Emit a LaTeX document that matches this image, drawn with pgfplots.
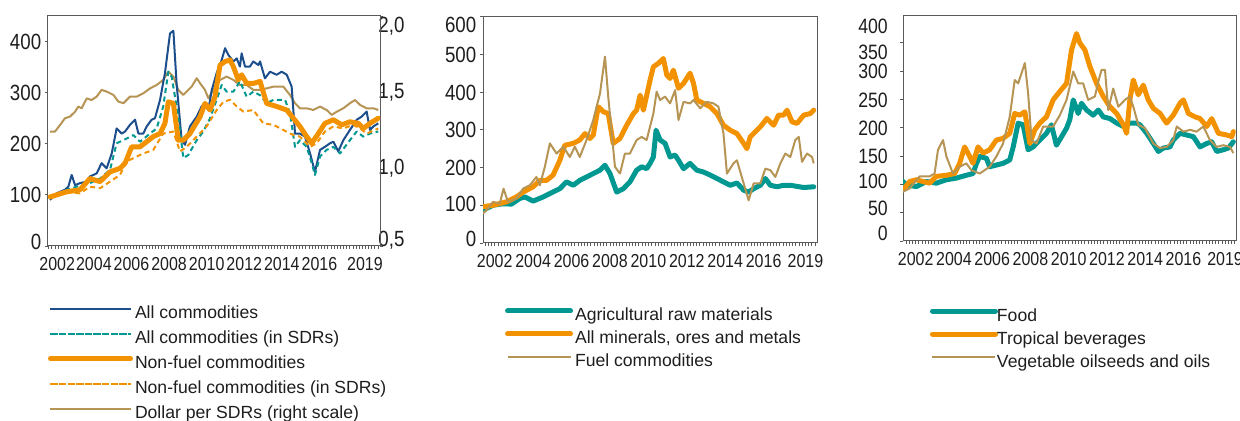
\documentclass[border=0pt]{standalone}
\usepackage{fontspec}
\setmainfont{Liberation Sans}
\newfontfamily\narrow[FakeStretch=0.85]{Liberation Sans}
\usepackage{pgfplots}
\pgfplotsset{compat=1.18}

\definecolor{cblue}{RGB}{28,78,140}
\definecolor{cteal}{RGB}{0,152,145}
\definecolor{corange}{RGB}{243,146,0}
\definecolor{ctan}{RGB}{182,148,84}
\definecolor{axgray}{RGB}{90,90,90}
\definecolor{txt}{RGB}{30,30,30}

\pgfplotsset{
  base/.style={
    scale only axis,
    axis line style={axgray, line width=0.5pt},
    every tick/.style={axgray, line width=0.4pt},
    /pgf/number format/assume math mode=true,
    tick label style={text=txt},
    major tick length=0pt,
    minor tick length=1.5pt,
    tick align=outside,
    yticklabel style={font=\narrow\fontsize{11}{13}\selectfont, inner sep=0pt, xshift=-3.2pt},
    xticklabel style={font=\narrow\fontsize{9.4}{11}\selectfont, inner sep=0pt, yshift=-5.3pt},
    xtick pos=bottom,
    ytick pos=left,
    legend cell align=left,
    every axis plot/.append style={line join=round},
  },
  leg/.style n args={4}{
    legend style={at={(axis description cs:#1,#2)}, anchor=north west, draw=none, fill=none,
      inner sep=0pt, outer sep=0pt, font=\fontsize{8.8}{10}\selectfont, text=txt,
      row sep=#4, nodes={inner sep=0pt, text height=6.4pt, text depth=1.6pt},
      /tikz/every odd column/.append style={column sep=#3}},
  },
  blueline/.style={draw=cblue, line width=1pt},
  tealdash/.style={draw=cteal, line width=1pt, dash pattern=on 2.5pt off 1.8pt},
  orangethick/.style={draw=corange, line width=2.5pt, line cap=round},
  orangedash/.style={draw=corange, line width=1pt, dash pattern=on 2.5pt off 1.8pt},
  tanline/.style={draw=ctan, line width=1pt},
  tealthick/.style={draw=cteal, line width=2.5pt, line cap=round},
}

\begin{document}
\begin{tikzpicture}
\path[use as bounding box] (0pt,0pt) rectangle (620pt,210.5pt);

% ---------------- Panel 1: right axis (Dollar per SDR) ----------------
\begin{axis}[base, at={(24pt,87.5pt)}, anchor=south west, width=166pt, height=115pt,
  xmin=2001.96, xmax=2019.62, ymin=0.5, ymax=2.0,
  axis y line*=right, axis x line=none,
  ytick pos=right,
  ytick={0.535,1.007,1.5,1.93}, yticklabels={{0,5},{1,0},{1,5},{2,0}},
  minor ytick={0.5,1.0,1.5,2.0},
  yticklabel style={font=\narrow\fontsize{11}{13}\selectfont, inner sep=0pt, xshift=2.2pt, anchor=west},
]
\addplot[tanline] coordinates {
(2002.07,1.246) (2002.33,1.246) (2002.60,1.289) (2002.86,1.333) (2003.13,1.344) (2003.40,1.376)
(2003.57,1.409) (2003.75,1.398) (2004.02,1.463) (2004.28,1.452) (2004.55,1.474) (2004.81,1.518)
(2005.08,1.507) (2005.44,1.485) (2005.70,1.442) (2005.97,1.431) (2006.32,1.474) (2006.68,1.474)
(2007.03,1.496) (2007.39,1.528) (2007.74,1.550) (2008.09,1.583) (2008.36,1.637) (2008.63,1.605)
(2008.89,1.518) (2009.16,1.485) (2009.60,1.539) (2009.87,1.594) (2010.05,1.561) (2010.31,1.518)
(2010.49,1.463) (2010.75,1.518) (2011.11,1.583) (2011.46,1.605) (2011.82,1.583) (2012.17,1.550)
(2012.53,1.550) (2012.88,1.518) (2013.24,1.518) (2013.59,1.528) (2013.95,1.539) (2014.48,1.539)
(2014.83,1.485) (2015.10,1.431) (2015.36,1.398) (2015.72,1.398) (2016.07,1.387) (2016.43,1.409)
(2016.78,1.387) (2017.05,1.355) (2017.32,1.376) (2017.67,1.398) (2018.02,1.431) (2018.29,1.452)
(2018.56,1.420) (2018.91,1.398) (2019.27,1.398) (2019.53,1.387)
};
\end{axis}

% ---------------- Panel 1: left axis ----------------
\begin{axis}[base, at={(24pt,87.5pt)}, anchor=south west, width=166pt, height=115pt,
  xmin=2001.96, xmax=2019.62, ymin=0, ymax=450,
  ytick={7.2,100,200,300,398.6}, yticklabels={0,100,200,300,400},
  minor ytick={0,100,200,300,400},
  xtick={2002.45,2004.4,2006.4,2008.4,2010.4,2012.4,2014.4,2016.4,2018.82},
  xticklabels={2002,2004,2006,2008,2010,2012,2014,2016,2019},
  minor xtick={2002,2002.1667,...,2019.6},
  leg={0}{-0.26}{1pt}{4.5pt},
  legend image code/.code={\path (0pt,2.6pt) -- (40pt,2.6pt); \draw[#1] (1.2pt,2.6pt) -- (38.8pt,2.6pt);},
]
\addplot[blueline] coordinates {
(2002.07,90) (2002.42,103) (2002.86,110) (2003.04,116) (2003.22,139) (2003.40,119) (2003.66,123)
(2004.02,126) (2004.19,136) (2004.55,142) (2004.81,162) (2005.08,152) (2005.35,181) (2005.61,230)
(2005.88,220) (2006.06,224) (2006.32,237) (2006.59,247) (2006.77,220) (2007.03,220) (2007.21,234)
(2007.47,247) (2007.65,250) (2007.92,286) (2008.18,338) (2008.45,416) (2008.63,421) (2008.80,318)
(2009.07,207) (2009.25,198) (2009.51,234) (2009.87,253) (2010.13,273) (2010.31,279) (2010.49,266)
(2010.67,305) (2010.93,338) (2011.20,364) (2011.38,387) (2011.55,374) (2011.82,361) (2012.00,367)
(2012.17,351) (2012.26,377) (2012.44,351) (2012.70,351) (2012.88,361) (2013.15,354) (2013.24,361)
(2013.50,328) (2013.77,341) (2014.12,335) (2014.39,341) (2014.66,335) (2014.92,312) (2015.10,220)
(2015.36,220) (2015.63,214) (2015.90,181) (2016.16,145) (2016.43,188) (2016.69,194) (2016.96,201)
(2017.14,204) (2017.40,185) (2017.67,207) (2018.02,227) (2018.38,247) (2018.64,253) (2018.91,263)
(2019.09,227) (2019.27,234) (2019.53,240)
};
\addlegendentry{All commodities}
\addplot[tealdash] coordinates {
(2002.07,93) (2002.95,110) (2003.48,116) (2004.19,123) (2004.73,132) (2005.26,149) (2005.61,201)
(2005.97,207) (2006.50,217) (2006.85,204) (2007.39,220) (2007.74,230) (2008.09,273) (2008.36,341)
(2008.54,331) (2008.89,253) (2009.16,172) (2009.42,178) (2009.87,207) (2010.22,224) (2010.58,250)
(2010.93,286) (2011.20,315) (2011.46,302) (2011.82,302) (2012.17,322) (2012.53,292) (2012.88,302)
(2013.24,295) (2013.59,279) (2013.95,286) (2014.57,286) (2014.83,260) (2015.10,194) (2015.36,207)
(2015.72,194) (2015.99,162) (2016.16,139) (2016.43,175) (2016.78,188) (2017.14,194) (2017.49,181)
(2018.02,207) (2018.38,224) (2018.73,214) (2019.09,220) (2019.53,224)
};
\addlegendentry{All commodities (in SDRs)}
\addplot[orangethick] coordinates {
(2002.07,96) (2002.95,106) (2003.66,110) (2004.19,132) (2004.73,126) (2005.26,145) (2005.79,152)
(2006.06,162) (2006.41,194) (2006.85,194) (2007.21,204) (2007.56,214) (2007.92,220) (2008.18,240)
(2008.36,282) (2008.63,279) (2008.89,207) (2009.16,207) (2009.51,220) (2010.05,253) (2010.31,279)
(2010.58,266) (2010.84,292) (2011.11,354) (2011.38,361) (2011.64,364) (2011.82,351) (2012.08,325)
(2012.26,335) (2012.53,318) (2012.88,318) (2013.24,322) (2013.59,279) (2014.12,273) (2014.66,266)
(2015.01,250) (2015.36,234) (2015.72,214) (2015.99,201) (2016.34,220) (2016.69,240) (2017.14,247)
(2017.58,237) (2018.02,243) (2018.47,240) (2018.73,230) (2019.09,240) (2019.53,250)
};
\addlegendentry{Non-fuel commodities}
\addplot[orangedash] coordinates {
(2002.07,96) (2002.95,106) (2003.66,103) (2004.19,116) (2004.73,113) (2005.26,126) (2005.79,139)
(2006.14,165) (2006.50,172) (2007.03,181) (2007.56,188) (2008.09,220) (2008.63,224) (2008.98,185)
(2009.34,194) (2009.87,214) (2010.40,234) (2010.93,266) (2011.29,282) (2011.64,286) (2012.00,273)
(2012.35,263) (2012.88,266) (2013.41,240) (2013.95,237) (2014.48,227) (2015.01,217) (2015.36,214)
(2015.90,194) (2016.25,201) (2016.69,224) (2017.14,234) (2017.67,230) (2018.20,237) (2018.56,230)
(2018.91,220) (2019.53,230)
};
\addlegendentry{Non-fuel commodities (in SDRs)}
\addlegendimage{tanline}
\addlegendentry{Dollar per SDRs (right scale)}
\end{axis}

% ---------------- Panel 2 ----------------
\begin{axis}[base, at={(241.5pt,89pt)}, anchor=south west, width=167pt, height=113.2pt,
  xmin=2001.89, xmax=2019.28, ymin=0, ymax=600,
  ytick={11.5,103,200,299,398,498,578}, yticklabels={0,100,200,300,400,500,600},
  minor ytick={0,100,...,600},
  xtick={2002.5,2004.5,2006.5,2008.5,2010.5,2012.5,2014.5,2016.5,2018.68},
  xticklabels={2002,2004,2006,2008,2010,2012,2014,2016,2019},
  minor xtick={2002,2002.1667,...,2019.2},
  leg={0.066}{-0.288}{1pt}{3.5pt},
  legend image code/.code={\path (0pt,2.6pt) -- (31.5pt,2.6pt); \draw[#1] (1.2pt,2.6pt) -- (30.3pt,2.6pt);},
]
\addplot[tealthick] coordinates {
(2001.89,87) (2002.41,100) (2002.93,104) (2003.37,103) (2003.80,118) (2004.07,122) (2004.50,111)
(2005.02,122) (2005.37,131) (2005.89,144) (2006.24,162) (2006.59,153) (2006.93,166) (2007.28,175)
(2007.63,184) (2007.98,193) (2008.24,206) (2008.50,184) (2008.85,135) (2009.20,144) (2009.54,162)
(2009.89,193) (2010.15,202) (2010.41,197) (2010.59,211) (2010.76,228) (2010.90,299) (2011.11,273)
(2011.37,264) (2011.63,228) (2011.89,233) (2012.07,219) (2012.33,197) (2012.67,211) (2013.02,193)
(2013.37,188) (2013.72,180) (2014.07,171) (2014.41,162) (2014.76,153) (2015.11,159) (2015.46,140)
(2015.72,135) (2015.98,144) (2016.33,153) (2016.59,171) (2016.85,153) (2017.20,149) (2017.54,153)
(2017.89,153) (2018.24,150) (2018.59,147) (2019.11,149)
};
\addlegendentry{Agricultural raw materials}
\addplot[orangethick] coordinates {
(2001.89,96) (2002.41,100) (2003.11,109) (2003.63,122) (2003.98,135) (2004.50,149) (2004.85,166)
(2005.20,166) (2005.54,180) (2005.89,219) (2006.15,259) (2006.59,264) (2006.93,273) (2007.20,290)
(2007.46,277) (2007.63,286) (2007.89,361) (2008.15,348) (2008.41,343) (2008.67,264) (2009.02,277)
(2009.37,312) (2009.72,343) (2009.89,352) (2010.07,392) (2010.24,352) (2010.59,432) (2010.76,467)
(2011.02,476) (2011.28,489) (2011.46,445) (2011.63,436) (2011.80,458) (2012.07,410) (2012.33,423)
(2012.67,450) (2012.85,423) (2013.02,379) (2013.37,370) (2013.72,361) (2014.07,343) (2014.41,312)
(2014.76,299) (2015.11,290) (2015.46,264) (2015.63,250) (2015.80,281) (2015.98,290) (2016.33,308)
(2016.67,330) (2017.02,312) (2017.28,339) (2017.54,339) (2017.72,352) (2017.98,321) (2018.24,317)
(2018.59,339) (2018.93,343) (2019.11,352)
};
\addlegendentry{All minerals, ores and metals}
\addplot[tanline] coordinates {
(2001.89,78) (2002.15,91) (2002.41,109) (2002.76,104) (2002.96,144) (2003.19,109) (2003.63,118)
(2003.98,144) (2004.33,153) (2004.67,175) (2004.85,153) (2005.11,202) (2005.37,264) (2005.72,237)
(2006.07,255) (2006.41,228) (2006.67,255) (2006.93,228) (2007.28,273) (2007.63,326) (2007.98,396)
(2008.24,494) (2008.41,388) (2008.76,202) (2009.02,184) (2009.28,237) (2009.54,237) (2009.89,273)
(2010.15,281) (2010.41,273) (2010.76,343) (2010.93,401) (2011.11,379) (2011.37,388) (2011.63,370)
(2011.89,405) (2012.07,326) (2012.33,374) (2012.67,370) (2012.85,379) (2013.20,357) (2013.54,374)
(2013.89,370) (2014.15,361) (2014.41,290) (2014.59,184) (2014.93,211) (2015.11,219) (2015.46,158)
(2015.72,113) (2015.98,158) (2016.33,158) (2016.59,197) (2016.85,193) (2017.11,175) (2017.37,211)
(2017.63,237) (2017.89,228) (2018.15,273) (2018.33,281) (2018.50,215) (2018.76,237) (2019.02,228)
(2019.11,211)
};
\addlegendentry{Fuel commodities}
\end{axis}

% ---------------- Panel 3 ----------------
\begin{axis}[base, at={(451.5pt,90pt)}, anchor=south west, width=166.5pt, height=112.5pt,
  xmin=2001.84, xmax=2019.25, ymin=0, ymax=397,
  ytick={13.5,58,105,150,199,249,299,333,379}, yticklabels={0,50,100,150,200,250,300,350,400},
  minor ytick={0,50,...,350},
  yticklabel style={font=\narrow\fontsize{10.4}{12}\selectfont, inner sep=0pt, xshift=-4.2pt},
  xtick={2002.5,2004.5,2006.5,2008.5,2010.5,2012.5,2014.5,2016.5,2018.68},
  xticklabels={2002,2004,2006,2008,2010,2012,2014,2016,2019},
  minor xtick={2002,2002.1667,...,2019.2},
  leg={0.081}{-0.299}{-0.5pt}{3.5pt},
  legend image code/.code={\path (0pt,2.6pt) -- (31.5pt,2.6pt); \draw[#1] (1.2pt,2.6pt) -- (30.3pt,2.6pt);},
]
\addplot[tealthick] coordinates {
(2001.84,105) (2002.01,99) (2002.54,96) (2003.06,105) (2003.58,102) (2004.11,108) (2004.63,111)
(2005.15,116) (2005.50,119) (2005.68,137) (2005.85,149) (2006.20,146) (2006.37,131) (2006.72,134)
(2007.07,137) (2007.42,143) (2007.60,166) (2007.86,208) (2008.12,205) (2008.38,161) (2008.64,166)
(2008.99,178) (2009.34,190) (2009.60,205) (2009.86,169) (2010.13,184) (2010.39,199) (2010.56,214)
(2010.74,249) (2011.00,225) (2011.17,243) (2011.44,231) (2011.78,222) (2012.05,231) (2012.31,219)
(2012.66,216) (2013.01,208) (2013.36,202) (2013.70,208) (2014.05,208) (2014.23,205) (2014.58,190)
(2014.93,172) (2015.19,158) (2015.45,164) (2015.80,166) (2015.97,178) (2016.32,190) (2016.67,187)
(2017.02,184) (2017.37,166) (2017.72,172) (2017.98,175) (2018.24,158) (2018.59,161) (2018.85,164)
(2019.11,175)
};
\addlegendentry{Food}
\addplot[orangethick] coordinates {
(2001.84,90) (2002.19,105) (2002.54,108) (2002.88,105) (2003.23,102) (2003.58,114) (2004.11,116)
(2004.54,119) (2004.80,137) (2005.06,166) (2005.33,149) (2005.50,137) (2005.76,166) (2006.03,155)
(2006.37,161) (2006.72,178) (2007.07,181) (2007.42,190) (2007.68,225) (2007.94,222) (2008.21,228)
(2008.47,172) (2008.73,196) (2008.99,208) (2009.34,219) (2009.69,249) (2010.04,264) (2010.39,278)
(2010.65,337) (2010.91,366) (2011.09,349) (2011.35,337) (2011.61,308) (2011.96,278) (2012.31,255)
(2012.66,237) (2013.01,225) (2013.36,205) (2013.53,190) (2013.70,249) (2013.88,284) (2014.14,258)
(2014.40,275) (2014.66,249) (2014.93,234) (2015.28,225) (2015.62,208) (2015.97,222) (2016.32,243)
(2016.50,249) (2016.76,225) (2017.11,219) (2017.37,216) (2017.72,202) (2017.98,216) (2018.33,190)
(2018.77,187) (2019.03,184) (2019.11,193)
};
\addlegendentry{Tropical beverages}
\addplot[tanline] coordinates {
(2001.84,87) (2002.19,93) (2002.71,114) (2003.23,114) (2003.49,119) (2003.67,161) (2003.93,178)
(2004.11,149) (2004.45,119) (2004.80,131) (2005.15,137) (2005.41,125) (2005.85,119) (2006.37,131)
(2006.72,149) (2007.07,172) (2007.42,219) (2007.68,284) (2007.86,278) (2008.21,314) (2008.38,261)
(2008.56,178) (2008.82,172) (2009.17,202) (2009.43,202) (2009.69,202) (2010.04,222) (2010.39,249)
(2010.74,299) (2011.00,278) (2011.26,278) (2011.52,249) (2011.87,255) (2012.05,281) (2012.22,302)
(2012.40,302) (2012.57,231) (2012.83,269) (2013.10,237) (2013.44,249) (2013.70,255) (2013.88,237)
(2014.14,205) (2014.49,199) (2014.93,172) (2015.28,164) (2015.62,166) (2015.97,178) (2016.15,202)
(2016.50,193) (2016.85,196) (2017.19,193) (2017.54,202) (2017.89,178) (2018.24,166) (2018.59,169)
(2018.94,166) (2019.11,155)
};
\addlegendentry{Vegetable oilseeds and oils}
\end{axis}
\end{tikzpicture}
\end{document}
